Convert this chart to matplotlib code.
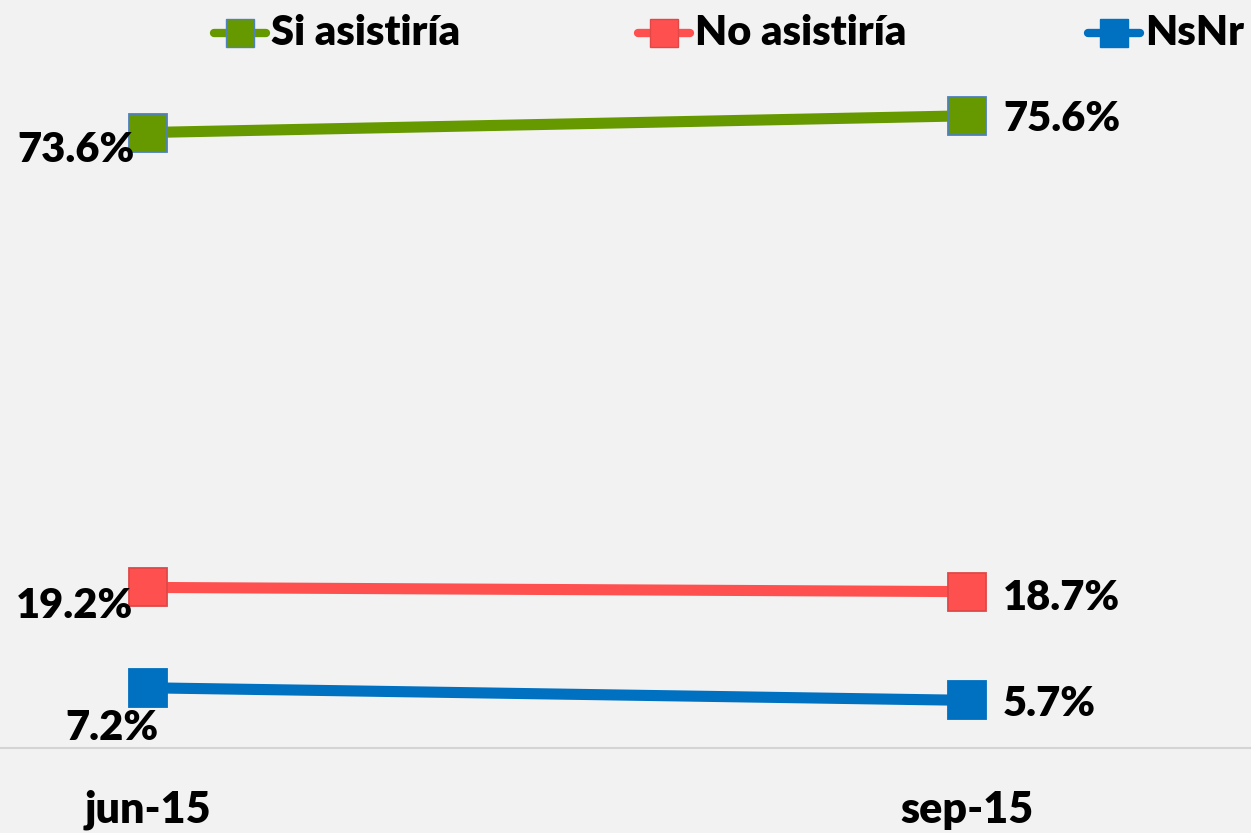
import matplotlib
matplotlib.use("Agg")
import matplotlib.pyplot as plt
from matplotlib.lines import Line2D

categories = ["jun-15", "sep-15"]
series_names = ["Si asistiría", "No asistiría", "NsNr"]
si_asistiria = [73.6, 75.6]
no_asistiria = [19.2, 18.7]
nsnr = [7.2, 5.7]

colors = ["#669900", "#ff5050", "#0070c0"]
edgecolors = ["#4f81bd", "#e04848", "#0070c0"]
# label offsets in pixels (left label, right label)
left_offsets = [(-72, -17), (-74, -19), (-36, -40)]
right_offsets = [(36, -3), (36, -6), (36, -4)]

plt.rcParams['font.family'] = ['Lato', 'DejaVu Sans']
W, H, DPI = 1251, 833, 100
fig = plt.figure(figsize=(W / DPI, H / DPI), dpi=DPI)
bg = "#f3f2f2"
fig.patch.set_facecolor(bg)

ax_bottom = (H - 748) / H
ax_top = 1 - 79 / H
ax = fig.add_axes([0, ax_bottom, 1, ax_top - ax_bottom])
ax.set_facecolor(bg)
x = list(range(len(categories)))
unit = 967 - 148
ax.set_xlim(-148 / unit, (W - 148) / unit)
ax.set_ylim(0, 80)

pt = 72 / DPI
FW = "heavy"
all_series = [si_asistiria, no_asistiria, nsnr]
for vals, name, c, ec, lo, ro in zip(all_series, series_names, colors, edgecolors, left_offsets, right_offsets):
    ax.plot(x, vals, color=c, lw=8, marker="s", markersize=27,
            markerfacecolor=c, markeredgecolor=ec, markeredgewidth=1.3,
            label=name, solid_capstyle="butt")
    ax.annotate(f"{vals[0]:.1f}%", (x[0], vals[0]), xytext=(lo[0] * pt, lo[1] * pt),
                textcoords="offset points", ha="center", va="center",
                fontsize=30, fontweight=FW, color="black")
    ax.annotate(f"{vals[1]:.1f}%", (x[1], vals[1]), xytext=(ro[0] * pt, ro[1] * pt),
                textcoords="offset points", ha="left", va="center",
                fontsize=30, fontweight=FW, color="black")

for s in ["top", "right", "left"]:
    ax.spines[s].set_visible(False)
ax.spines["bottom"].set_color("#d4d4d4")
ax.spines["bottom"].set_linewidth(1.5)
ax.set_yticks([])
ax.set_xticks(x)
ax.set_xticklabels(categories, fontsize=31, fontweight=FW)
ax.tick_params(axis="x", length=0, pad=(812 - 748 - 22) * pt)

# legend entries placed manually in figure fraction
leg_x = [210, 634, 1084]
leg_y = 1 - 33 / H
for lx, name, c, ec in zip(leg_x, series_names, colors, edgecolors):
    fig.add_artist(Line2D([(lx + 4) / W, (lx + 56) / W], [leg_y, leg_y], color=c, lw=6,
                          solid_capstyle="round"))
    fig.add_artist(Line2D([(lx + 30) / W], [leg_y], marker="s", markersize=20,
                          markerfacecolor=c, markeredgecolor=ec, markeredgewidth=1.0))
    fig.text((lx + 61) / W, leg_y, name, fontsize=30, fontweight=FW,
             ha="left", va="center", color="black")

fig.savefig("out.png", dpi=DPI, facecolor=bg)
